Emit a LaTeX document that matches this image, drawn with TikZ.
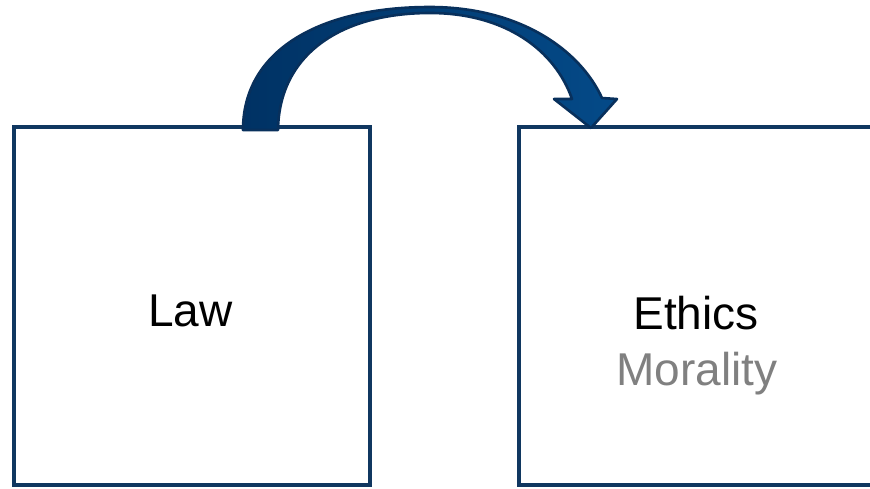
\documentclass[tikz,border=0pt]{standalone}
\usepackage{fontspec}
\setmainfont{Liberation Sans}
\definecolor{navyline}{RGB}{16,55,96}
\definecolor{arrowdark}{RGB}{0,50,100}
\definecolor{arrowlight}{RGB}{4,74,136}
\definecolor{arrowedge}{RGB}{8,48,92}
\definecolor{softgray}{RGB}{128,128,128}
\tikzset{
  panel/.style={draw=navyline, line width=4.6pt, rectangle, inner sep=0pt, fill=white},
  label/.style={font=\fontsize{46}{55}\selectfont, inner sep=0pt, anchor=base},
}
\begin{document}
\begin{tikzpicture}[x=1pt, y=-1pt]
  \useasboundingbox (0,0) rectangle (870,488);
  \clip (0,0) rectangle (870,488);

  % two panels
  \node[panel, minimum width=356pt, minimum height=358pt] (law) at (192,306) {};
  \node[panel, minimum width=357pt, minimum height=358pt] (ethics) at (697.5,306) {};

  % curved block arrow from the Law panel to the Ethics panel
  \path[draw=arrowedge, line width=2.6pt, line join=round,
        left color=arrowdark, right color=arrowlight]
    (243,130) .. controls (243,50) and (320,7) .. (430,7)
    .. controls (520,7) and (580,50) .. (602,98)
    -- (617,99) -- (591,128) -- (554,99) -- (572,99)
    .. controls (555,50) and (505,13) .. (430,13)
    .. controls (340,13) and (279,55) .. (278,130) -- cycle;

  % texts
  \node[label] (lawtext) at (190.5,326) {Law};
  \node[label] (ethicstext) at (696,329) {Ethics};
  \node[label, text=softgray] (moraltext) at (697,385) {Morality};
\end{tikzpicture}
\end{document}
